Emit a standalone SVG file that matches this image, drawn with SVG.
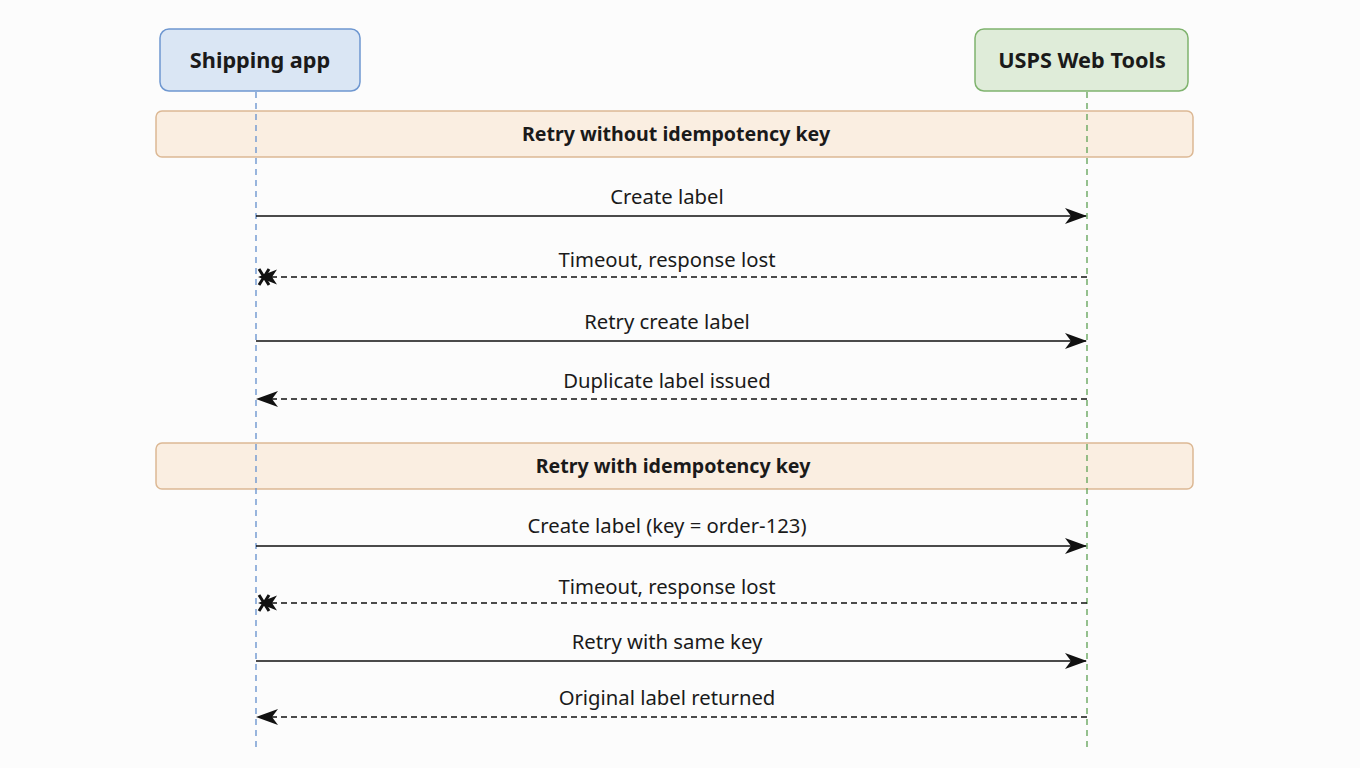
<svg xmlns="http://www.w3.org/2000/svg" width="1360" height="768" viewBox="0 0 1360 768">
<style>
.bg{fill:#fcfcfc}
.t{font-family:"Noto Sans","Open Sans","Liberation Sans",sans-serif;fill:#1a1a1a;text-anchor:middle}
.title{font-size:21.7px;font-weight:bold}
.band{font-size:19.6px;font-weight:bold}
.msg{font-size:20.3px}
.life{stroke-width:1.4;stroke-dasharray:6 5;fill:none}
.sync{stroke:#111;stroke-width:1.6;fill:none}
.ret{stroke:#111;stroke-width:1.4;stroke-dasharray:6 4;fill:none}
.bandr{fill:#f9e5cf;fill-opacity:0.6;stroke:#dcb894;stroke-width:1.5}
</style>
<defs>
<marker id="ah" viewBox="0 0 22 16" refX="21" refY="8" markerWidth="22" markerHeight="16" markerUnits="userSpaceOnUse" orient="auto">
<path d="M0,0 L22,8 L0,16 L6,8 Z" fill="#111"/>
</marker>
<marker id="lost" viewBox="0 0 22 18" refX="21" refY="9" markerWidth="22" markerHeight="18" markerUnits="userSpaceOnUse" orient="auto">
<path d="M2,1.5 L21,9 L2,16.5 L7,9 Z" fill="#111"/>
<path d="M10,1 L20,17 M20,1 L10,17" stroke="#111" stroke-width="3"/>
</marker>
</defs>
<rect class="bg" x="0" y="0" width="1360" height="768"/>
<g id="band1">
<rect class="bandr" x="156" y="111" width="1037" height="46" rx="6"/>
<text class="t band" x="676" y="141">Retry without idempotency key</text>
</g>
<g id="band2">
<rect class="bandr" x="156" y="443" width="1037" height="46" rx="6"/>
<text class="t band" x="673" y="473">Retry with idempotency key</text>
</g>
<g id="shipping-app">
<rect x="160" y="29" width="200" height="62" rx="9" fill="#dae6f4" stroke="#6e97d0" stroke-width="1.5"/>
<text class="t title" x="260" y="68">Shipping app</text>
<line class="life" x1="256" y1="92" x2="256" y2="750" stroke="#6e97d0"/>
</g>
<g id="usps-web-tools">
<rect x="975" y="29" width="213" height="62" rx="9" fill="#dfecd9" stroke="#7fb36e" stroke-width="1.5"/>
<text class="t title" x="1082" y="68">USPS Web Tools</text>
<line class="life" x1="1087" y1="92" x2="1087" y2="750" stroke="#6aa760"/>
</g>
<g id="connectors">
<line class="sync" x1="256" y1="216" x2="1086" y2="216" marker-end="url(#ah)"/>
<text class="t msg" x="667" y="204">Create label</text>
<line class="ret" x1="1087" y1="277" x2="258" y2="277" marker-end="url(#lost)"/>
<text class="t msg" x="667" y="267">Timeout, response lost</text>
<line class="sync" x1="256" y1="341" x2="1086" y2="341" marker-end="url(#ah)"/>
<text class="t msg" x="667" y="329">Retry create label</text>
<line class="ret" x1="1087" y1="399" x2="257" y2="399" marker-end="url(#ah)"/>
<text class="t msg" x="667" y="388">Duplicate label issued</text>
<line class="sync" x1="256" y1="546" x2="1086" y2="546" marker-end="url(#ah)"/>
<text class="t msg" x="667" y="533">Create label (key = order-123)</text>
<line class="ret" x1="1087" y1="603" x2="258" y2="603" marker-end="url(#lost)"/>
<text class="t msg" x="667" y="594">Timeout, response lost</text>
<line class="sync" x1="256" y1="661" x2="1086" y2="661" marker-end="url(#ah)"/>
<text class="t msg" x="667" y="649">Retry with same key</text>
<line class="ret" x1="1087" y1="717" x2="257" y2="717" marker-end="url(#ah)"/>
<text class="t msg" x="667" y="705">Original label returned</text>
</g>
</svg>
